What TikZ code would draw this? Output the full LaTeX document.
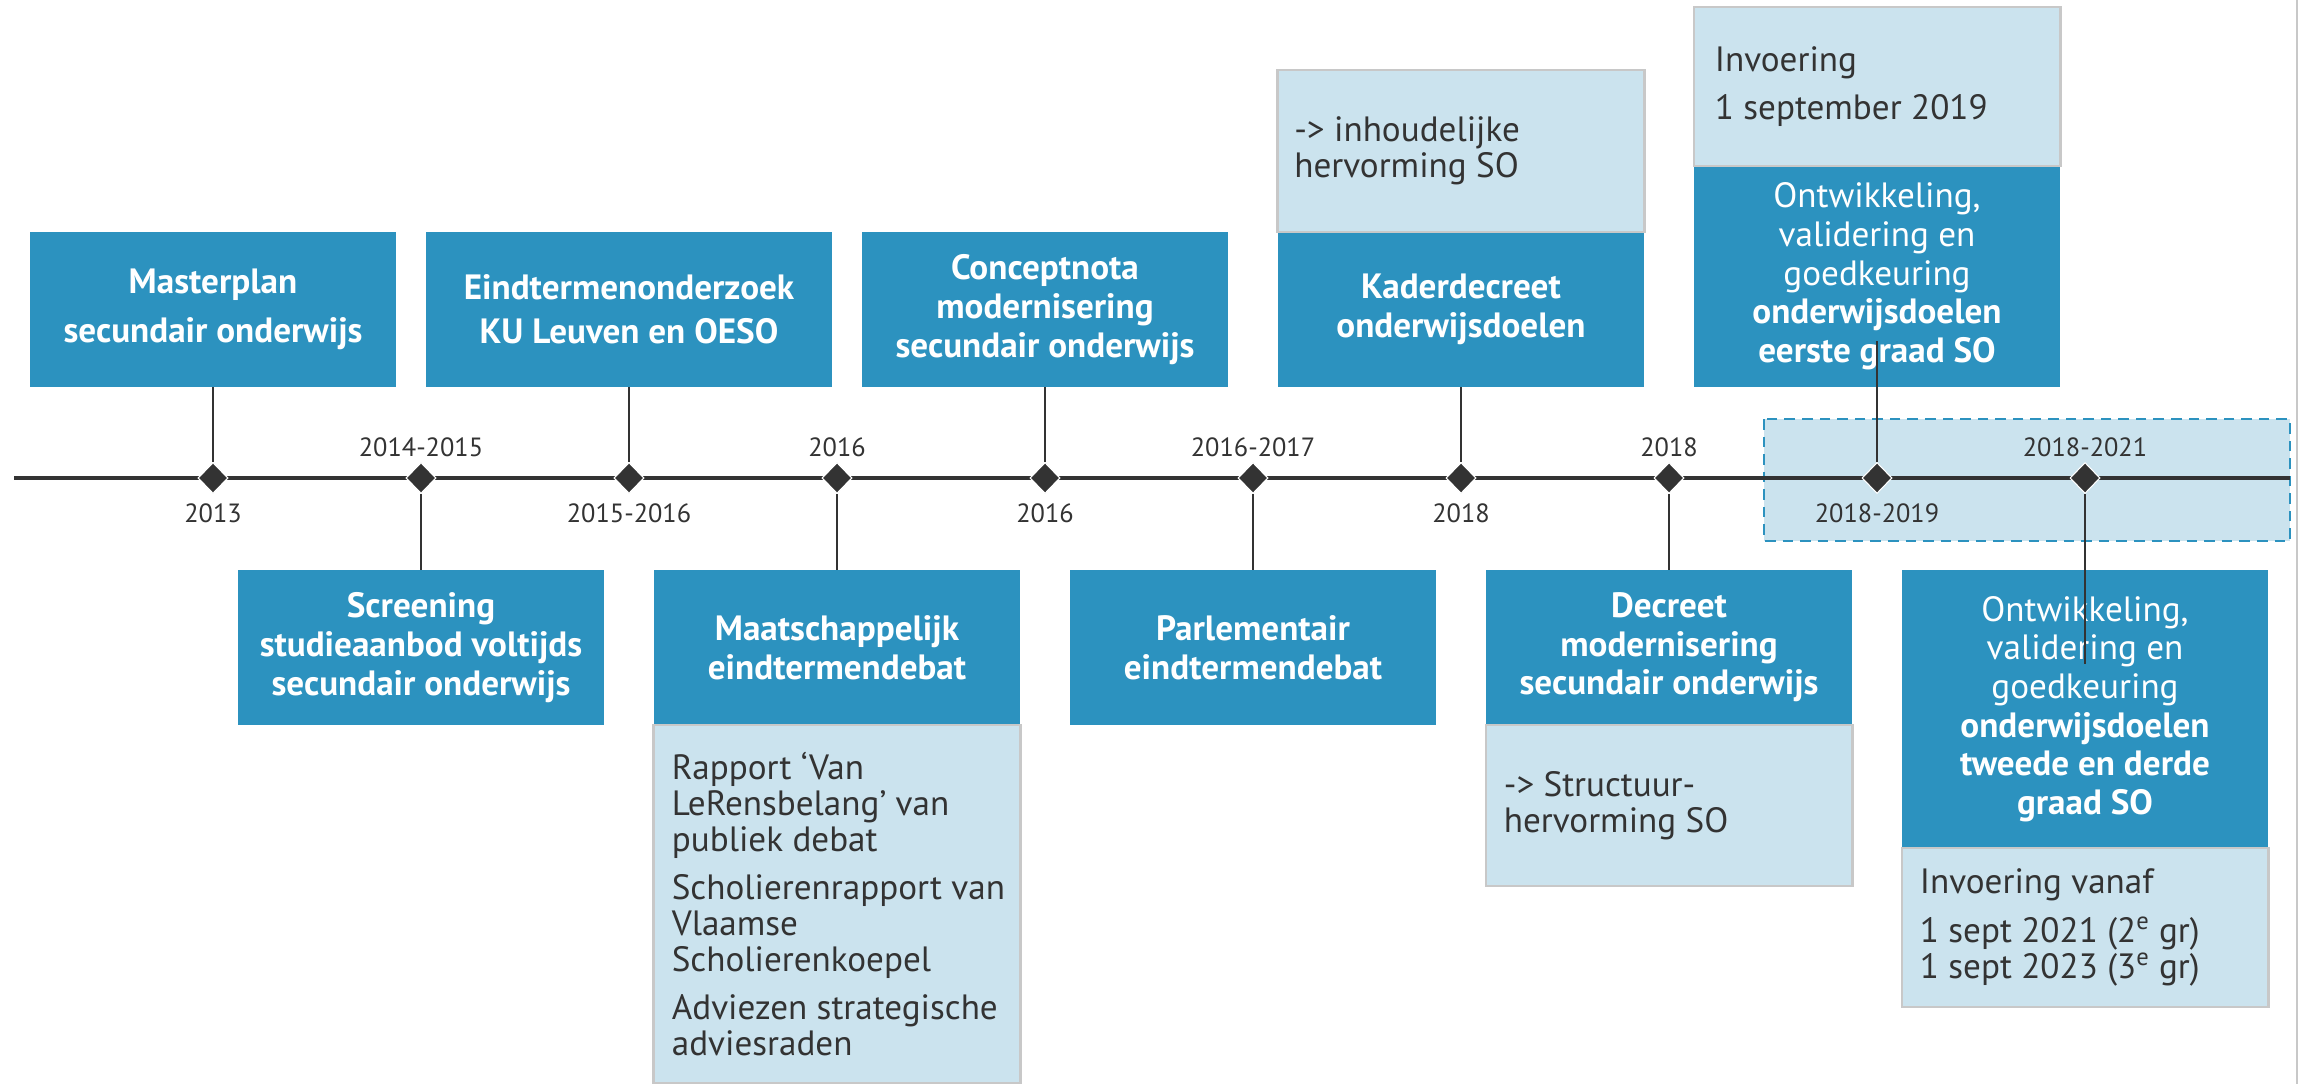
\documentclass[tikz,border=0pt]{standalone}
\usepackage{fontspec}
\setmainfont{PT Sans}
\usepackage{tikz}
\usetikzlibrary{shapes.geometric}

\definecolor{tlblue}{RGB}{44,146,191}
\definecolor{tlpale}{RGB}{203,227,238}
\definecolor{tlgrey}{RGB}{200,200,200}
\definecolor{tlink}{RGB}{51,51,51}

\newcommand{\boxfont}{\fontsize{20}{22}\selectfont}
\newcommand{\infofont}{\fontsize{20}{20.5}\selectfont}

\begin{document}
\begin{tikzpicture}[x=0.02cm, y=-0.02cm,
  headbox/.style={fill=tlblue, text=white, font=\boxfont\bfseries, align=center, inner sep=0pt, minimum width=7.34cm, minimum height=3.1cm},
  infobox/.style={fill=tlpale, draw=tlgrey, line width=1.2pt, minimum width=7.34cm, inner sep=0pt},
  infotext/.style={text=tlink, font=\infofont, align=left, anchor=west, inner sep=0pt},
  milestone/.style={diamond, fill=tlink, draw=white, line width=0.6pt, inner sep=0pt, minimum width=0.6cm, minimum height=0.62cm},
  yearlabel/.style={text=tlink, font=\fontsize{15}{17}\selectfont},
  conn/.style={draw=tlink, line width=0.8pt}]
	\useasboundingbox (0,0) rectangle (2305,1084);
	\draw[tlgrey, line width=1pt] (2297,0) -- (2297,1084);
	\draw[draw=tlblue, fill=tlpale, line width=1.6pt, dash pattern=on 6pt off 4pt] (1764,419) rectangle (2290,541);
	\coordinate (axisstart) at (14,478);
	\coordinate (axisend) at (2290,478);
	\draw[tlink, line width=2pt] (axisstart) -- (axisend);

	\node[headbox] (mplan) at (213,309.5) {Masterplan\\[6pt]secundair onderwijs};
	\node[headbox, minimum width=8.12cm] (eind) at (629,309.5) {Eindtermenonderzoek\\[3pt]KU Leuven en OESO};
	\node[headbox] (concept) at (1045,309.5) {Conceptnota\\modernisering\\secundair onderwijs};
	\node[headbox] (kader) at (1461,309.5) {Kaderdecreet\\onderwijsdoelen};
	\node[headbox, font=\boxfont, minimum height=4.42cm] (ontw1) at (1877,276.5) {Ontwikkeling,\\validering en\\goedkeuring\\\textbf{onderwijsdoelen}\\\textbf{eerste graad SO}};
	\node[headbox] (screen) at (421,647.5) {Screening\\studieaanbod voltijds\\secundair onderwijs};
	\node[headbox] (maat) at (837,647.5) {Maatschappelijk\\eindtermendebat};
	\node[headbox] (parl) at (1253,647.5) {Parlementair\\eindtermendebat};
	\node[headbox] (decr) at (1669,647.5) {Decreet\\modernisering\\secundair onderwijs};
	\node[headbox, font=\boxfont, minimum height=5.56cm] (ontw2) at (2085,709) {Ontwikkeling,\\validering en\\goedkeuring\\\textbf{onderwijsdoelen}\\\textbf{tweede en derde}\\\textbf{graad SO}};

	\node[infobox, minimum height=3.24cm] (kaderinfo) at (1461,151) {};
	\node[infobox, minimum height=3.18cm] (ontw1info) at (1877,86.5) {};
	\node[infobox, minimum height=7.16cm] (maatinfo) at (837,904) {};
	\node[infobox, minimum height=3.22cm] (decrinfo) at (1669,805.5) {};
	\node[infobox, minimum height=3.18cm] (ontw2info) at (2085,927.5) {};
	\node[infotext] (kadertext) at ([xshift=0.35cm]kaderinfo.west) {-> inhoudelijke\\hervorming SO};
	\node[infotext] (ontw1text) at ([xshift=0.44cm]ontw1info.west) {Invoering\\[7pt]1 september 2019};
	\node[infotext] (maattext) at ([xshift=0.38cm]maatinfo.west) {Rapport ‘Van\\LeRensbelang’ van\\publiek debat\\[7pt]Scholierenrapport van\\Vlaamse\\Scholierenkoepel\\[7pt]Adviezen strategische\\adviesraden};
	\node[infotext] (decrtext) at ([xshift=0.38cm]decrinfo.west) {-> Structuur-\\hervorming SO};
	\node[infotext] (ontw2text) at ([xshift=0.38cm]ontw2info.west) {Invoering vanaf\\[7pt]1 sept 2021 (2\textsuperscript{e} gr)\\1 sept 2023 (3\textsuperscript{e} gr)};

	\node[milestone] (d1) at (213,478) {};
	\node[milestone] (d2) at (421,478) {};
	\node[milestone] (d3) at (629,478) {};
	\node[milestone] (d4) at (837,478) {};
	\node[milestone] (d5) at (1045,478) {};
	\node[milestone] (d6) at (1253,478) {};
	\node[milestone] (d7) at (1461,478) {};
	\node[milestone] (d8) at (1669,478) {};
	\node[milestone] (d9) at (1877,478) {};
	\node[milestone] (d10) at (2085,478) {};
	\node[yearlabel] (y1) at (213,513) {2013};
	\node[yearlabel] (y2) at (421,447) {2014-2015};
	\node[yearlabel] (y3) at (629,513) {2015-2016};
	\node[yearlabel] (y4) at (837,447) {2016};
	\node[yearlabel] (y5) at (1045,513) {2016};
	\node[yearlabel] (y6) at (1253,447) {2016-2017};
	\node[yearlabel] (y7) at (1461,513) {2018};
	\node[yearlabel] (y8) at (1669,447) {2018};
	\node[yearlabel] (y9) at (1877,513) {2018-2019};
	\node[yearlabel] (y10) at (2085,447) {2018-2021};

	\coordinate (o1end) at (1877,341);
	\coordinate (o2end) at (2085,664);
	\draw[conn] (mplan) -- (d1);
	\draw[conn] (d2) -- (screen);
	\draw[conn] (eind) -- (d3);
	\draw[conn] (d4) -- (maat);
	\draw[conn] (concept) -- (d5);
	\draw[conn] (d6) -- (parl);
	\draw[conn] (kader) -- (d7);
	\draw[conn] (d8) -- (decr);
	\draw[conn] (d9) -- (o1end);
	\draw[conn] (d10) -- (o2end);
\end{tikzpicture}
\end{document}
